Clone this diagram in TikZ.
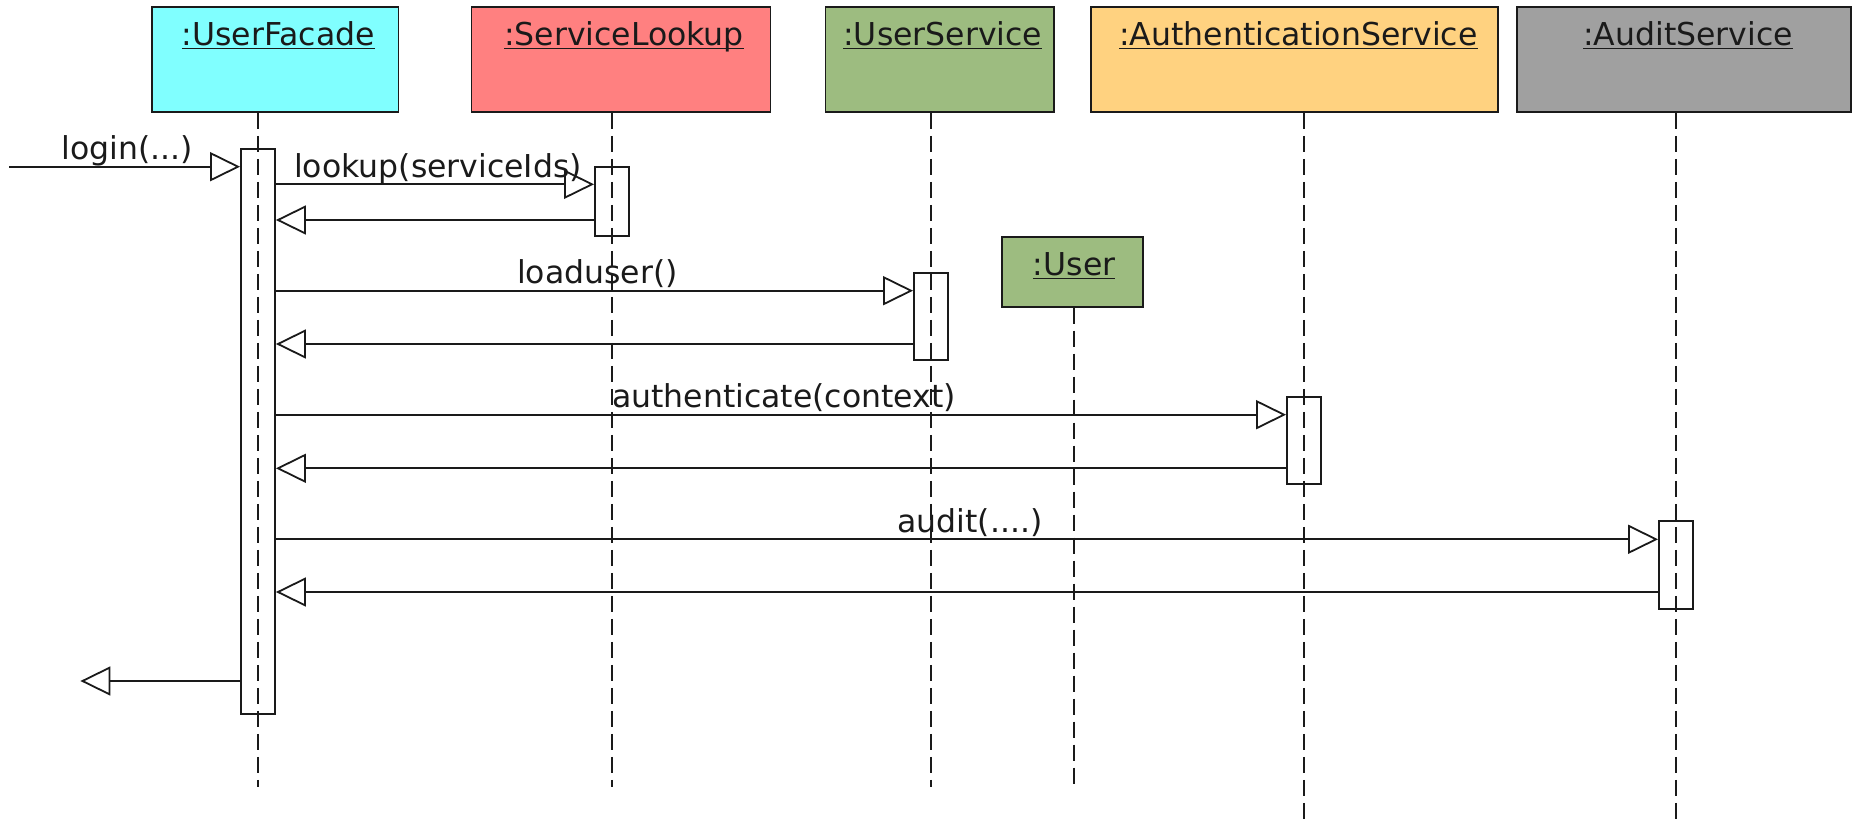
\documentclass[tikz,border=0pt]{standalone}
\usepackage{fontspec}
\setmainfont{DejaVu Sans}
\usetikzlibrary{arrows.meta,fit}
\definecolor{facadecol}{HTML}{80FFFF}
\definecolor{lookupcol}{HTML}{FF8080}
\definecolor{servicecol}{HTML}{9DBC80}
\definecolor{authcol}{HTML}{FFD280}
\definecolor{auditcol}{HTML}{A0A0A0}
\definecolor{ink}{HTML}{1A1A1A}
\newcommand{\objname}[1]{\underline{\smash{#1}}}
\begin{document}
\begin{tikzpicture}[x=0.5pt,y=-0.5pt,
  txt/.style={font=\fontsize{15.75pt}{19pt}\selectfont, text=ink, inner sep=0pt, anchor=base},
  objbox/.style={draw=ink, line width=0.9pt, inner sep=0pt},
  actbox/.style={draw=ink, line width=0.9pt, inner sep=0pt},
  life/.style={draw=ink, line width=1pt, dash pattern=on 8pt off 3.5pt},
  msg/.style={draw=ink, line width=0.9pt, -{Triangle[open,length=15pt,width=14.5pt]}},
  lbl/.style={txt, pos=0.5, yshift=3.5pt, xshift=1.5pt}]
\useasboundingbox (0,0) rectangle (1858,823);

% object boxes
\node[objbox, fill=facadecol, fit={(152,6.7) (398.5,112)}] (uf) {};
\node[objbox, fill=lookupcol, fit={(471.5,6.7) (770.5,112)}] (sl) {};
\node[objbox, fill=servicecol, fit={(825.5,6.7) (1054,112)}] (us) {};
\node[objbox, fill=authcol, fit={(1091.3,6.7) (1497.6,112)}] (as) {};
\node[objbox, fill=auditcol, fit={(1516.7,6.7) (1851.3,112)}] (ad) {};
\node[objbox, fill=servicecol, fit={(1002.2,237.3) (1143.3,306.7)}] (usr) {};

% object names
\node[txt] (ufname) at ([xshift=1.5pt]uf.north |- 0,46) {\objname{:UserFacade}};
\node[txt] (slname) at ([xshift=1.5pt]sl.north |- 0,46) {\objname{:ServiceLookup}};
\node[txt] (usname) at ([xshift=1.5pt]us.north |- 0,46) {\objname{:UserService}};
\node[txt] (asname) at ([xshift=2pt]as.north |- 0,46) {\objname{:AuthenticationService}};
\node[txt] (adname) at ([xshift=2pt]ad.north |- 0,46) {\objname{:AuditService}};
\node[txt] (usrname) at ([xshift=0.7pt]usr.north |- 0,276) {\objname{:User}};

% activation bars
\node[actbox, fit={(241,149) (275,714.3)}] (aUF) {};
\node[actbox, fit={(595,166.7) (629,235.7)}] (aSL) {};
\node[actbox, fit={(914,273.3) (948,360)}] (aUS) {};
\node[actbox, fit={(1287,396.7) (1321,484.3)}] (aAS) {};
\node[actbox, fit={(1659,521.3) (1693,608.7)}] (aAD) {};

% lifeline ends
\coordinate (eUF) at (258,787);
\coordinate (eSL) at (612,787);
\coordinate (eUS) at (931,787);
\coordinate (eUSR) at (1074,787);
\coordinate (eAS) at (1304,823);
\coordinate (eAD) at (1676,823);

% lifelines
\draw[life] (aUF.center |- uf.south) -- (eUF);
\draw[life] (aSL.center |- sl.south) -- (eSL);
\draw[life] (aUS.center |- us.south) -- (eUS);
\draw[life] (eUSR |- usr.south) -- (eUSR);
\draw[life] (aAS.center |- as.south) -- (eAS);
\draw[life] (aAD.center |- ad.south) -- (eAD);

% messages
\coordinate (caller) at (9,166.7);
\coordinate (back) at (80.4,681);
\draw[msg] (caller) -- node[lbl] {login(...)} (aUF.west |- 0,166.7);
\draw[msg] (aUF.east |- 0,184.3) -- node[lbl] {lookup(serviceIds)} (aSL.west |- 0,184.3);
\draw[msg] (aSL.west |- 0,220) -- (aUF.east |- 0,220);
\draw[msg] (aUF.east |- 0,290.7) -- node[lbl] {loaduser()} (aUS.west |- 0,290.7);
\draw[msg] (aUS.west |- 0,344) -- (aUF.east |- 0,344);
\draw[msg] (aUF.east |- 0,414.7) -- node[lbl] {authenticate(context)} (aAS.west |- 0,414.7);
\draw[msg] (aAS.west |- 0,468.3) -- (aUF.east |- 0,468.3);
\draw[msg] (aUF.east |- 0,539.3) -- node[lbl] {audit(....)} (aAD.west |- 0,539.3);
\draw[msg] (aAD.west |- 0,592) -- (aUF.east |- 0,592);
\draw[msg] (aUF.west |- 0,681) -- (back);
\end{tikzpicture}
\end{document}
